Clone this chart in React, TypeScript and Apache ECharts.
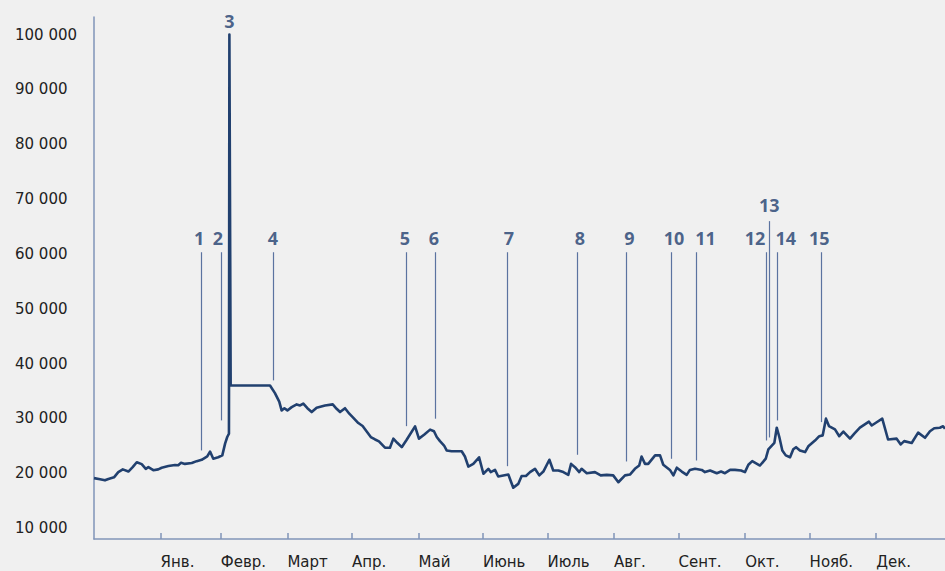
import React, { useEffect, useRef } from "react";
import * as echarts from "echarts";

// Day offsets from the first observation (start of December)
const days = [
  0.0, 2.8, 5.1, 6.7, 9.3, 11.3, 13.4, 16.0, 18.0, 19.9, 22.2, 24.1, 25.3, 27.6, 29.9, 31.5,
  34.6, 37.7, 39.2, 40.5, 42.3, 45.5, 47.8, 50.1, 51.6, 52.7, 54.0, 55.5, 57.8, 59.7, 61.0,
  62.0, 62.8, 63.0, 63.6, 81.9, 84.2, 86.2, 87.3, 88.6, 90.0, 92.0, 94.3, 95.9, 97.4, 99.3,
  101.3, 103.6, 107.5, 111.1, 112.9, 114.5, 116.8, 118.8, 120.7, 123.0, 125.0, 126.9, 128.8,
  130.8, 132.6, 135.4, 137.7, 139.3, 141.1, 143.2, 145.5, 149.4, 151.2, 153.6, 156.4, 158.2,
  159.5, 161.0, 162.9, 164.1, 166.4, 171.1, 172.6, 174.2, 176.5, 179.2, 181.2, 183.5, 184.6,
  186.6, 188.1, 192.8, 195.1, 197.4, 199.0, 201.0, 202.9, 205.2, 207.2, 209.1, 211.9, 213.7,
  216.1, 218.4, 220.7, 222.0, 223.8, 225.8, 226.9, 229.3, 233.1, 235.8, 238.6, 241.6, 244.0,
  247.1, 249.4, 251.7, 253.7, 254.8, 256.4, 257.9, 261.1, 263.4, 264.9, 268.0, 269.6, 271.2,
  273.5, 275.8, 277.3, 279.7, 282.8, 284.3, 286.7, 289.8, 291.8, 293.6, 296.0, 298.3, 301.1,
  302.9, 304.5, 306.3, 307.9, 309.9, 312.6, 313.8, 316.6, 317.7, 318.9, 320.3, 321.9, 323.9,
  325.4, 326.7, 328.5, 330.9, 332.4, 335.5, 337.5, 339.1, 340.6, 342.0, 344.8, 346.8, 348.7,
  351.8, 353.8, 356.4, 360.6, 361.9, 364.2, 366.8, 369.5, 373.5, 375.4, 377.0, 380.5, 383.5,
  386.7, 389.0, 391.0, 393.6, 395.1, 396.0,
];

const values = [
  19100, 18900, 18700, 18950, 19250, 20200, 20700, 20300, 21100, 22000, 21650, 20800, 21100,
  20550, 20700, 21000, 21300, 21500, 21450, 21900, 21700, 21850, 22200, 22450, 22800, 23050,
  23950, 22650, 22900, 23250, 25400, 26600, 27200, 100000, 36000, 36000, 34600, 33050, 31450,
  31850, 31450, 32050, 32550, 32350, 32700, 31850, 31150, 31950, 32350, 32550, 31750, 31150,
  31850, 30850, 30100, 29150, 28600, 27600, 26600, 26150, 25800, 24650, 24650, 26300, 25550,
  24750, 26100, 28550, 26300, 27000, 27950, 27650, 26600, 25850, 25050, 24150, 24000, 24000,
  23050, 21200, 21700, 22900, 19900, 20800, 20200, 20600, 19400, 19750, 17350, 18050, 19500,
  19500, 20200, 20800, 19600, 20300, 22450, 20500, 20500, 20200, 19700, 21700, 21100, 20200,
  20800, 20000, 20200, 19600, 19700, 19600, 18350, 19600, 19750, 20800, 21400, 23050, 21700,
  21700, 23250, 23250, 21550, 20600, 19600, 21000, 20300, 19700, 20600, 20800, 20600, 20200,
  20500, 20000, 20300, 20000, 20600, 20600, 20500, 20200, 21550, 22200, 21850, 21400, 22650,
  24350, 25550, 28300, 26600, 24150, 23250, 22900, 24350, 24750, 24150, 23850, 24900, 25950,
  26750, 26900, 29950, 28600, 28000, 26750, 27600, 26300, 27200, 28300, 29400, 28700, 29300,
  29950, 26150, 26300, 25250, 25850, 25500, 27400, 26450, 27650, 28200, 28300, 28550, 28100,
];

// Month ticks (day offsets) and their labels
const monthTicks = [31, 59, 90, 120, 151, 181, 211, 242, 272, 303, 333, 364];
const monthLabels = [
  "Янв.", "Февр.", "Март", "Апр.", "Май", "Июнь", "Июль", "Авг.", "Сент.", "Окт.", "Нояб.", "Дек.",
];

const yTicks = [10000, 20000, 30000, 40000, 50000, 60000, 70000, 80000, 90000, 100000];

// Event annotations
const annoNames = ["1", "2", "4", "5", "6", "7", "8", "9", "10", "11", "12", "13", "14", "15"];
const annoDays = [49.8, 59.4, 83.3, 145.5, 159.0, 192.5, 224.9, 247.9, 268.8, 280.1, 313.0, 314.4, 318.0, 338.2];
const annoLow = [24150, 29630, 36930, 28580, 29940, 21280, 23360, 22140, 22630, 22320, 25970, 26520, 29630, 29320];
const annoHigh = [60300, 60300, 60300, 60300, 60300, 60300, 60300, 60300, 60300, 60300, 60300, 65970, 60300, 60300];

const labelNames = ["1", "2", "3", "4", "5", "6", "7", "8", "9", "10", "11", "12", "13", "14", "15"];
const labelDays = [48.9, 57.7, 63.0, 83.3, 144.7, 158.2, 193.1, 226.1, 249.1, 269.9, 284.6, 307.6, 314.2, 321.9, 337.5];
const labelValues = [62870, 62870, 102500, 62870, 62870, 62870, 62870, 62870, 62870, 62870, 62870, 62870, 68900, 62870, 62870];

const fmtThousands = (v: number) => {
  const s = String(Math.round(v));
  return s.replace(/\B(?=(\d{3})+(?!\d))/g, " ");
};

export default function App() {
  const ref = useRef<HTMLDivElement>(null);

  useEffect(() => {
    if (!ref.current) return;
    const chart = echarts.init(ref.current, undefined, { renderer: "svg" });
    const axisColor = "#8195b8";
    const lineColor = "#21406f";
    const annoColor = "#5b73a0";
    const font = "'DejaVu Sans', 'Noto Sans', sans-serif";
    const boldFont = "'Noto Sans', 'Open Sans', sans-serif";

    chart.setOption({
      animation: false,
      backgroundColor: "#f0f0f0",
      grid: { left: 94, right: 0, top: 17, bottom: 32, containLabel: false, outerBoundsMode: "none" },
      xAxis: {
        type: "value",
        min: 0,
        max: 396,
        splitLine: { show: false },
        axisLine: { show: true, lineStyle: { color: axisColor, width: 1.5 } },
        axisTick: {
          show: true,
          inside: true,
          length: 6,
          customValues: monthTicks,
          lineStyle: { color: axisColor, width: 1.5 },
        },
        axisLabel: {
          show: true,
          customValues: monthTicks,
          formatter: (v: number) => {
            const i = monthTicks.indexOf(Math.round(v));
            return i >= 0 ? monthLabels[i] : "";
          },
          align: "left",
          margin: 14,
          lineHeight: 17,
          color: "#222222",
          fontSize: 15,
          fontFamily: font,
        },
      },
      yAxis: {
        type: "value",
        min: 8000,
        max: 103200,
        splitLine: { show: false },
        axisLine: { show: true, lineStyle: { color: axisColor, width: 1.5 } },
        axisTick: { show: false },
        axisLabel: {
          show: true,
          customValues: yTicks,
          formatter: (v: number) => fmtThousands(v),
          align: "left",
          margin: 79,
          color: "#222222",
          fontSize: 15,
          fontFamily: font,
        },
      },
      series: [
        {
          type: "line",
          data: days.map((d, i) => [d, values[i]]),
          showSymbol: false,
          symbol: "none",
          lineStyle: { color: lineColor, width: 2.6, join: "round" },
          z: 3,
          markLine: {
            silent: true,
            symbol: ["none", "none"],
            label: { show: false },
            lineStyle: { color: annoColor, width: 1.2, type: "solid" },
            data: annoDays.map((d, i) => [
              { coord: [d, annoLow[i]] },
              { coord: [d, annoHigh[i]] },
            ]),
          },
        },
        {
          type: "scatter",
          symbolSize: 0,
          silent: true,
          data: labelDays.map((d, i) => ({ name: labelNames[i], value: [d, labelValues[i]] })),
          label: {
            show: true,
            position: "inside",
            formatter: "{b}",
            color: "#1f3d6e",
            fontSize: 18,
            fontWeight: "bold",
            fontFamily: boldFont,
          },
          z: 4,
        },
      ],
    });

    return () => chart.dispose();
  }, []);

  return (
    <div
      ref={ref}
      style={{ position: "fixed", left: 0, top: 0, width: 945, height: 571 }}
    />
  );
}
